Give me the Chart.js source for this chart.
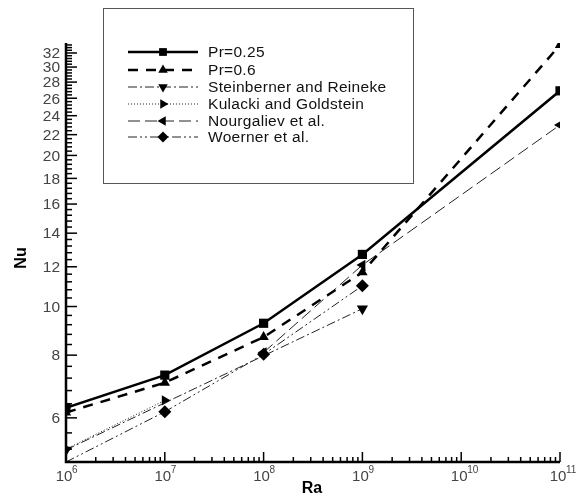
<!DOCTYPE html>
<html lang="en">
<head>
<meta charset="UTF-8">
<title>Nu vs Ra</title>
<script src="https://cdn.jsdelivr.net/npm/chart.js"></script>
<style>
    body { margin: 0; background: #fff; }
    #wrap { width: 580px; height: 500px; }
</style>
</head>
<body>
<div id="wrap"><canvas id="nuChart" width="580" height="500"></canvas></div>
<script>
// values
const raMain = [1e6, 1e7, 1e8, 1e9, 1e11];
const nuPr025 = [6.28, 7.3, 9.26, 12.7, 26.9];
const nuPr06 = [6.15, 7.05, 8.69, 11.7, 33.2];
const raSteinberner = [1e6, 1e9];
const nuSteinberner = [5.18, 9.9];
const raKulacki = [1e6, 1e7];
const nuKulacki = [5.2, 6.5];
const raNourgaliev = [1e8, 1e9, 1e11];
const nuNourgaliev = [8.1, 12.1, 23.0];
const raWoerner = [1e6, 1e7, 1e8, 1e9];
const nuWoerner = [4.9, 6.17, 8.03, 11.0];

const yTickLabels = [6, 8, 10, 12, 14, 16, 18, 20, 22, 24, 26, 28, 30, 32];
const xTickExponents = [6, 7, 8, 9, 10, 11];

const FONT = '"Liberation Sans", Arial, sans-serif';

function pts(xs, ys) {
    return xs.map((x, i) => ({ x: x, y: ys[i] }));
}

function series(label, xs, ys, dash, width, style, rot, radius) {
    return {
        label: label,
        data: pts(xs, ys),
        borderColor: width > 1.5 ? '#000' : '#222',
        backgroundColor: '#000',
        borderWidth: width,
        borderDash: dash,
        pointStyle: style,
        rotation: rot,
        pointRadius: radius,
        pointBorderWidth: 0,
        pointBackgroundColor: '#000',
        tension: 0,
        fill: false
    };
}

const datasets = [
    series('Pr=0.25', raMain, nuPr025, [], 2.5, 'rect', 0, 6.5),
    series('Pr=0.6', raMain, nuPr06, [10, 8], 2.5, 'triangle', 0, 6),
    series('Steinberner and Reineke', raSteinberner, nuSteinberner, [9, 3, 2, 3], 1, 'triangle', 180, 6.5),
    series('Kulacki and Goldstein', raKulacki, nuKulacki, [1, 2], 1, 'triangle', 90, 6),
    series('Nourgaliev et al.', raNourgaliev, nuNourgaliev, [12, 5], 1, 'triangle', 270, 6),
    series('Woerner et al.', raWoerner, nuWoerner, [9, 3, 2, 3, 2, 3], 1, 'rectRot', 0, 6.5)
];
datasets[5].order = -1;
datasets[5].pointRadius = [0, 6.5, 6.5, 6.5];

const axesPlugin = {
    id: 'axesPlugin',
    afterDraw(chart) {
        const ctx = chart.ctx;
        const a = chart.chartArea;
        const xs = chart.scales.x;
        const ys = chart.scales.y;
        ctx.save();
        ctx.strokeStyle = '#000';
        ctx.fillStyle = '#000';

        // axis lines
        ctx.lineWidth = 2.5;
        ctx.beginPath();
        ctx.moveTo(a.left, a.top);
        ctx.lineTo(a.left, a.bottom);
        ctx.lineTo(a.right, a.bottom);
        ctx.stroke();

        // x ticks
        ctx.lineWidth = 1.5;
        for (let e = 6; e <= 11; e++) {
            const px = xs.getPixelForValue(Math.pow(10, e));
            ctx.beginPath();
            ctx.moveTo(px, a.bottom);
            ctx.lineTo(px, a.bottom - 10);
            ctx.stroke();
            if (e < 11) {
                for (let m = 2; m <= 9; m++) {
                    const mx = xs.getPixelForValue(m * Math.pow(10, e));
                    ctx.beginPath();
                    ctx.moveTo(mx, a.bottom);
                    ctx.lineTo(mx, a.bottom - 5);
                    ctx.stroke();
                }
            }
        }
        // y ticks
        for (let k = 13; k <= 83; k++) {
            const v = k * 0.4;
            if (v < ys.min || v > ys.max) continue;
            const py = ys.getPixelForValue(v);
            const major = k >= 15 && (k % 5 === 0);
            ctx.beginPath();
            ctx.moveTo(a.left, py);
            ctx.lineTo(a.left + (major ? 11 : 6), py);
            ctx.stroke();
        }

        // y labels
        ctx.font = '15.5px ' + FONT;
        ctx.fillStyle = '#444';
        ctx.textAlign = 'right';
        ctx.textBaseline = 'middle';
        yTickLabels.forEach(v => {
            ctx.fillText(String(v), a.left - 6, ys.getPixelForValue(v) + 1);
        });

        // x labels 10^n
        xTickExponents.forEach(e => {
            const px = xs.getPixelForValue(Math.pow(10, e));
            ctx.font = '15px ' + FONT;
            ctx.textAlign = 'center';
            ctx.textBaseline = 'middle';
            ctx.fillText('10', px - 2, a.bottom + 15);
            ctx.font = '10px ' + FONT;
            ctx.textAlign = 'left';
            ctx.fillText(String(e), px + 6, a.bottom + 8);
        });

        // axis titles
        ctx.fillStyle = '#000';
        ctx.font = 'bold 16px ' + FONT;
        ctx.textAlign = 'center';
        ctx.textBaseline = 'middle';
        ctx.fillText('Ra', (a.left + a.right) / 2 - 1, a.bottom + 27);
        ctx.save();
        ctx.translate(22, 258);
        ctx.rotate(-Math.PI / 2);
        ctx.fillText('Nu', 0, 0);
        ctx.restore();

        // legend box
        ctx.fillStyle = '#fff';
        ctx.fillRect(103, 8, 310, 175);
        ctx.strokeStyle = '#555';
        ctx.lineWidth = 1;
        ctx.strokeRect(103.5, 8.5, 310, 175);

        const rowY = [52, 70, 87, 104, 121, 137];
        chart.data.datasets.forEach((ds, i) => {
            const y = rowY[i];
            ctx.strokeStyle = ds.borderColor;
            ctx.lineWidth = ds.borderWidth;
            ctx.setLineDash(ds.borderDash);
            ctx.beginPath();
            ctx.moveTo(128, y);
            ctx.lineTo(198, y);
            ctx.stroke();
            ctx.setLineDash([]);
            ctx.fillStyle = '#000';
            ctx.strokeStyle = '#000';
            Chart.helpers.drawPoint(ctx, {
                pointStyle: ds.pointStyle,
                rotation: ds.rotation,
                radius: 5.5,
                borderWidth: 0
            }, 163, y);
            ctx.fillStyle = '#111';
            ctx.font = '15.5px ' + FONT;
            ctx.letterSpacing = '0.3px';
            ctx.textAlign = 'left';
            ctx.textBaseline = 'middle';
            ctx.fillText(ds.label, 208, y + 1);
            ctx.letterSpacing = '0px';
        });
        ctx.restore();
    }
};

new Chart(document.getElementById('nuChart'), {
    type: 'line',
    data: { datasets: datasets },
    options: {
        responsive: false,
        animation: false,
        devicePixelRatio: 1,
        layout: { padding: { left: 66, right: 20, top: 43, bottom: 38 } },
        scales: {
            x: { type: 'logarithmic', min: 1e6, max: 1e11, display: false },
            y: { type: 'logarithmic', min: 4.9, max: 33.5, display: false }
        },
        plugins: {
            legend: { display: false },
            tooltip: { enabled: false }
        }
    },
    plugins: [axesPlugin]
});
</script>
</body>
</html>
